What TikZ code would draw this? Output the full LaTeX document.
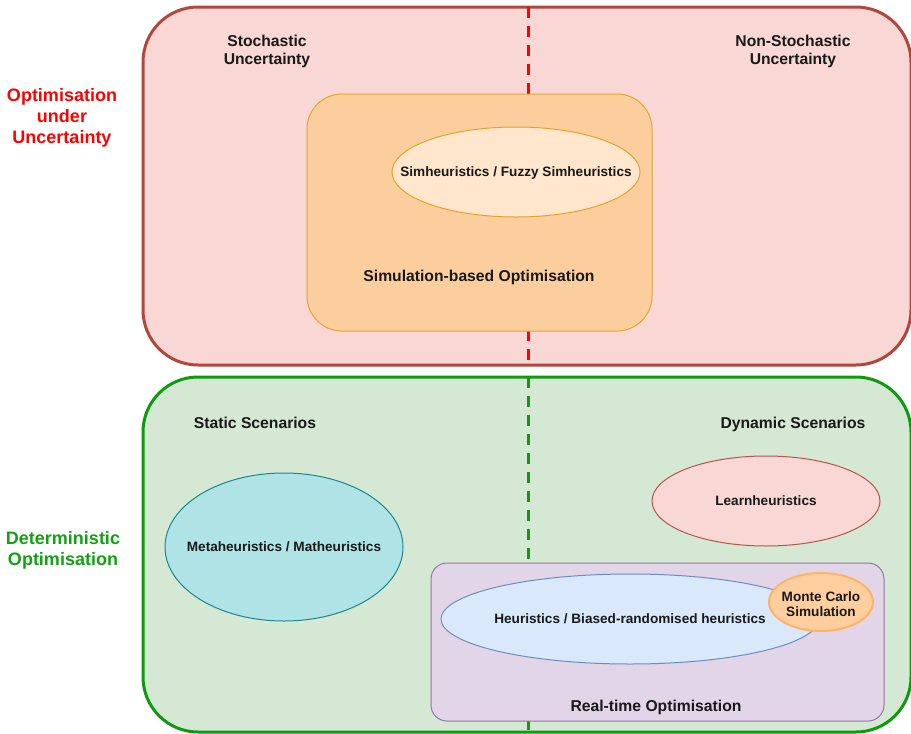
\documentclass[tikz,border=0pt]{standalone}
\usepackage{fontspec}
\setmainfont{Liberation Sans}
\usetikzlibrary{shapes.geometric}
\definecolor{redfill}{HTML}{F8D7D4}
\definecolor{redline}{HTML}{B0463C}
\definecolor{greenfill}{HTML}{D5E8D4}
\definecolor{greenline}{HTML}{0E990E}
\definecolor{orfill}{HTML}{FCCE9E}
\definecolor{orline}{HTML}{E0A82E}
\definecolor{simfill}{HTML}{FFE6CC}
\definecolor{simline}{HTML}{DDA52A}
\definecolor{metafill}{HTML}{B0E3E6}
\definecolor{metaline}{HTML}{1A8890}
\definecolor{learnfill}{HTML}{F8D7D4}
\definecolor{learnline}{HTML}{B85450}
\definecolor{purfill}{HTML}{E1D5E7}
\definecolor{purline}{HTML}{9673A6}
\definecolor{heurfill}{HTML}{DAE8FC}
\definecolor{heurline}{HTML}{6C8EBF}
\definecolor{mcfill}{HTML}{FFCE9F}
\definecolor{mcline}{HTML}{FFB366}
\definecolor{labred}{HTML}{FF0000}
\definecolor{labgreen}{HTML}{13A013}
\tikzset{
  bigbox/.style={draw, rectangle, rounded corners=55pt, line width=3pt, inner sep=0pt},
  innerbox/.style={draw, rectangle, line width=1pt, inner sep=0pt},
  ell/.style={draw, ellipse, line width=1pt, inner sep=0pt},
  head/.style={font=\bfseries\fontsize{15.7}{18}\selectfont, align=center, text=black!90},
  headb/.style={head, anchor=base},
  small/.style={font=\bfseries\fontsize{13.6}{15}\selectfont, align=center, text=black!90},
  smallb/.style={small, anchor=base},
  side/.style={font=\bfseries\fontsize{18}{21}\selectfont, align=center},
  divider/.style={line width=3pt, dash pattern=on 11pt off 8pt},
}
\begin{document}
\begin{tikzpicture}[x=1pt,y=-1pt]
\useasboundingbox (0,0) rectangle (911,734);
% outer boxes
\node[bigbox, draw=redline, fill=redfill, minimum width=768pt, minimum height=358pt] (ou) at (527,186) {};
\node[bigbox, draw=greenline, fill=greenfill, minimum width=768pt, minimum height=355pt] (do) at (527,554.5) {};
% dividers
\coordinate (rt) at (528,7);
\coordinate (rb) at (528,365);
\coordinate (gt) at (528,377);
\coordinate (gb) at (528,732);
\draw[divider, draw=labred] (rt) -- (rb);
\draw[divider, draw=greenline] (gt) -- (gb);
% side labels
\node[side, text=labred] (oul) at (62,118) {Optimisation\\under\\Uncertainty};
\node[side, text=labgreen] (dol) at (63,550) {Deterministic\\Optimisation};
% top region
\node[head] (stoch) at (267,51) {Stochastic\\Uncertainty};
\node[head] (nonstoch) at (793,51) {Non-Stochastic\\Uncertainty};
\node[innerbox, rounded corners=35pt, draw=orline, fill=orfill, minimum width=345pt, minimum height=237pt] (sbo) at (479.5,212.5) {};
\node[ell, draw=simline, fill=simfill, minimum width=248pt, minimum height=90pt] (sim) at (516,172) {};
\node[smallb] at (516,176.8) {Simheuristics / Fuzzy Simheuristics};
\node[headb] (sbol) at (479,281.6) {Simulation-based Optimisation};
% bottom region
\node[headb] (stat) at (255,428.6) {Static Scenarios};
\node[headb] (dyn) at (793,428.6) {Dynamic Scenarios};
\node[ell, draw=metaline, fill=metafill, minimum width=238pt, minimum height=148pt] (meta) at (284,547) {};
\node[smallb] at (284,551.8) {Metaheuristics / Matheuristics};
\node[ell, draw=learnline, fill=learnfill, minimum width=228pt, minimum height=90pt] (learn) at (766,501) {};
\node[smallb] at (766,505.8) {Learnheuristics};
\node[innerbox, rounded corners=16pt, draw=purline, fill=purfill, minimum width=453pt, minimum height=158pt] (rto) at (657.5,642) {};
\node[ell, draw=heurline, fill=heurfill, minimum width=378pt, minimum height=90pt] (heur) at (630,619) {};
\node[smallb] at (630,623.8) {Heuristics / Biased-randomised heuristics};
\node[ell, draw=mcline, fill=mcfill, line width=2pt, minimum width=104pt, minimum height=58pt] (mc) at (821,602) {};
\node[small] at (821,604) {Monte Carlo\\Simulation};
\node[headb] (rtol) at (656,711.6) {Real-time Optimisation};
\end{tikzpicture}
\end{document}
